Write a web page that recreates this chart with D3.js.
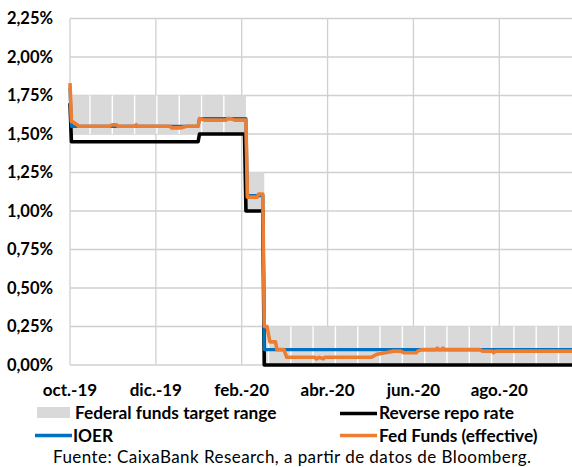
<!DOCTYPE html>
<html><head><meta charset="utf-8">
<script src="https://cdn.jsdelivr.net/npm/d3@7"></script>
<style>
body{margin:0;background:#fff}
svg{display:block}
text{font-family:Lato,"Open Sans",sans-serif;fill:#000}
</style>
</head><body>
<svg id="chart" width="572" height="467"></svg>
<script>
// ---------- data ----------
const yTickValues = [0, 0.25, 0.5, 0.75, 1.0, 1.25, 1.5, 1.75, 2.0, 2.25];
const xTickDates = ["2019-10-30", "2019-12-30", "2020-02-29", "2020-04-30", "2020-06-30", "2020-08-30"];
const xTickLabels = ["oct.-19", "dic.-19", "feb.-20", "abr.-20", "jun.-20", "ago.-20"];
const domainDates = ["2019-10-30", "2020-10-21"];

// Federal funds target range (step changes)
const rangeDates = ["2019-10-30", "2020-03-03", "2020-03-16", "2020-10-21"];
const rangeLow   = [1.50, 1.00, 0.00, 0.00];
const rangeHigh  = [1.75, 1.25, 0.25, 0.25];

// Reverse repo rate
const repoDates  = ["2019-10-30","2019-10-31","2020-01-29","2020-01-30","2020-03-02","2020-03-03","2020-03-15","2020-03-16","2020-10-21"];
const repoValues = [1.70, 1.45, 1.45, 1.50, 1.50, 1.00, 1.00, 0.00, 0.00];

// IOER
const ioerDates  = ["2019-10-30","2019-10-31","2020-01-29","2020-01-30","2020-03-03","2020-03-04","2020-03-15","2020-03-16","2020-10-21"];
const ioerValues = [1.80, 1.55, 1.55, 1.60, 1.60, 1.10, 1.10, 0.10, 0.10];

// Fed Funds (effective)
const effrDates = [
  "2019-10-30","2019-10-31","2019-11-01","2019-11-04","2019-11-05","2019-11-27","2019-11-29","2019-12-02","2019-12-03",
  "2019-12-15","2019-12-16","2019-12-17","2020-01-09","2020-01-10","2020-01-17","2020-01-21","2020-01-29","2020-01-30",
  "2020-02-03","2020-02-18","2020-02-19","2020-02-21","2020-02-24","2020-03-03","2020-03-04","2020-03-11","2020-03-12",
  "2020-03-15","2020-03-16","2020-03-18","2020-03-19","2020-03-20","2020-03-24","2020-03-25","2020-03-30","2020-04-01",
  "2020-04-21","2020-04-22","2020-04-24","2020-04-27","2020-04-28","2020-05-31","2020-06-04","2020-06-10","2020-06-16",
  "2020-06-21","2020-06-23","2020-07-02","2020-07-03","2020-07-06","2020-07-16","2020-07-17","2020-07-18","2020-07-20",
  "2020-07-21","2020-07-22","2020-08-16","2020-08-18","2020-08-25","2020-08-26","2020-08-27","2020-10-21"];
const effrValues = [
  1.83, 1.58, 1.58, 1.56, 1.55, 1.55, 1.56, 1.56, 1.55,
  1.55, 1.56, 1.55, 1.55, 1.54, 1.54, 1.55, 1.55, 1.60,
  1.59, 1.59, 1.60, 1.60, 1.59, 1.59, 1.09, 1.09, 1.11,
  1.11, 0.25, 0.25, 0.20, 0.15, 0.15, 0.10, 0.10, 0.05,
  0.05, 0.04, 0.05, 0.04, 0.05, 0.05, 0.07, 0.08, 0.09,
  0.09, 0.08, 0.08, 0.09, 0.10, 0.10, 0.11, 0.10, 0.10,
  0.11, 0.10, 0.10, 0.09, 0.09, 0.08, 0.09, 0.09];

const legendLabels = ["Federal funds target range", "Reverse repo rate", "IOER", "Fed Funds (effective)"];
const sourceText = "Fuente: CaixaBank Research, a partir de datos de Bloomberg.";

// ---------- setup ----------
const parse = d3.timeParse("%Y-%m-%d");
const svg = d3.select("#chart");
const colors = {band: "#D9D9D9", repo: "#000000", ioer: "#0070C0", effr: "#ED7D31", grid: "#D0D0D0"};

const x = d3.scaleTime().domain(domainDates.map(parse)).range([70, 572.5]);
const y = d3.scaleLinear().domain([0, 2.25]).range([365, 18.5]);

const zip = (ds, vs) => ds.map((d, i) => ({date: parse(d), value: vs[i]}));

// gridlines
svg.append("g").selectAll("line.h").data(yTickValues).join("line")
  .attr("x1", 70).attr("x2", 572).attr("y1", d => y(d)).attr("y2", d => y(d))
  .attr("stroke", colors.grid).attr("stroke-width", 1.3);
svg.append("g").selectAll("line.v").data(xTickDates).join("line")
  .attr("x1", d => x(parse(d))).attr("x2", d => x(parse(d)))
  .attr("y1", y(2.25)).attr("y2", y(0))
  .attr("stroke", colors.grid).attr("stroke-width", 1.3);

// band
const band = rangeDates.map((d, i) => ({date: parse(d), lo: rangeLow[i], hi: rangeHigh[i]}));
const bandG = svg.append("g");
bandG.append("path").datum(band)
  .attr("fill", colors.band)
  .attr("d", d3.area().curve(d3.curveStepAfter).x(d => x(d.date)).y0(d => y(d.lo)).y1(d => y(d.hi)));
// thin white separators between the band's columns
const sepStart = d3.timeHour.offset(parse(domainDates[0]), Math.round(14.2 * 24));
const sepDates = d3.range(0, 24).map(k => d3.timeHour.offset(sepStart, Math.round(k * 15.85 * 24)));
const bisect = d3.bisector(d => d.date).right;
bandG.selectAll("line").data(sepDates.filter(d => d < parse(domainDates[1]))).join("line")
  .attr("x1", d => x(d)).attr("x2", d => x(d))
  .attr("y1", d => y(band[bisect(band, d) - 1].hi))
  .attr("y2", d => y(band[bisect(band, d) - 1].lo))
  .attr("stroke", "#fff").attr("stroke-width", 1.4);

// lines
const line = d3.line().x(d => x(d.date)).y(d => y(d.value));
const plotLine = (data, color, w) => svg.append("path").datum(data)
  .attr("fill", "none").attr("stroke", color).attr("stroke-width", w)
  .attr("stroke-linejoin", "round").attr("d", line);
plotLine(zip(repoDates, repoValues), colors.repo, 3.6);
plotLine(zip(ioerDates, ioerValues), colors.ioer, 3.2);
plotLine(zip(effrDates, effrValues), colors.effr, 3.6);

// axes labels
const fmt = v => d3.format(".2f")(v).replace(".", ",") + "%";
svg.append("g").selectAll("text").data(yTickValues).join("text")
  .attr("x", 53).attr("y", d => y(d)).attr("dy", "0.36em")
  .attr("text-anchor", "end").attr("font-weight", 700).attr("font-size", 16.5)
  .text(fmt);
svg.append("g").selectAll("text").data(xTickDates).join("text")
  .attr("x", d => x(parse(d))).attr("y", 396)
  .attr("text-anchor", "middle").attr("font-weight", 700).attr("font-size", 17)
  .text((d, i) => xTickLabels[i]);

// legend
const lg = svg.append("g").attr("font-weight", 700).attr("font-size", 17.3);
lg.append("rect").attr("x", 37).attr("y", 407).attr("width", 33).attr("height", 11).attr("fill", colors.band);
lg.append("text").attr("x", 75).attr("y", 419).text(legendLabels[0]);
lg.append("line").attr("x1", 340).attr("x2", 377).attr("y1", 413.5).attr("y2", 413.5).attr("stroke", colors.repo).attr("stroke-width", 3.6);
lg.append("text").attr("x", 379).attr("y", 419).text(legendLabels[1]);
lg.append("line").attr("x1", 35).attr("x2", 72).attr("y1", 435.5).attr("y2", 435.5).attr("stroke", colors.ioer).attr("stroke-width", 3.6);
lg.append("text").attr("x", 73).attr("y", 441.5).text(legendLabels[2]);
lg.append("line").attr("x1", 340).attr("x2", 377).attr("y1", 435.5).attr("y2", 435.5).attr("stroke", colors.effr).attr("stroke-width", 3.6);
lg.append("text").attr("x", 379).attr("y", 441.5).text(legendLabels[3]);

svg.append("text").attr("x", 53).attr("y", 462.5).attr("font-size", 17)
  .attr("textLength", 478).attr("lengthAdjust", "spacing").text(sourceText);
</script>
</body></html>
